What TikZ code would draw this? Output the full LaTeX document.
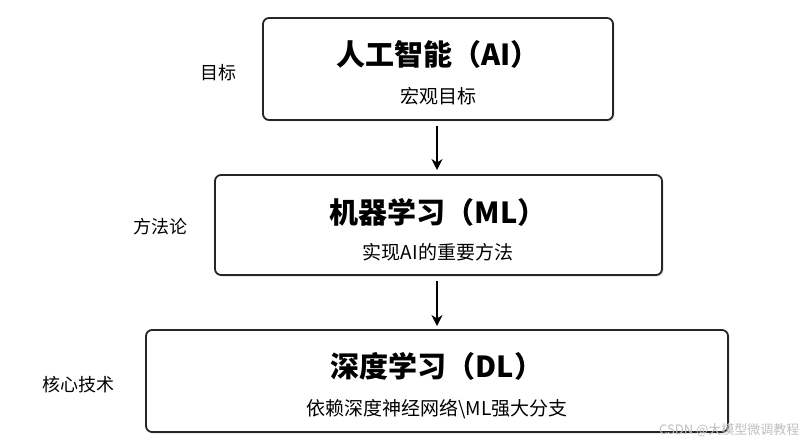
\documentclass[tikz,border=0pt]{standalone}
\usepackage{fontspec}
\setmainfont{Noto Sans CJK SC}
\usetikzlibrary{arrows.meta}
\usetikzlibrary{shadows}

\tikzset{
    layerbox/.style={draw=black!85, line width=1.8pt, rounded corners=6pt,
        fill=white, drop shadow={opacity=0.25, shadow xshift=1.5pt, shadow yshift=-1.5pt}},
    titletext/.style={font=\fontsize{29}{32}\selectfont\bfseries},
    subtext/.style={font=\fontsize{19}{22}\selectfont},
    sidetext/.style={font=\fontsize{18}{21}\selectfont},
    flow/.style={-{Stealth[length=11pt,width=11pt]}, line width=2pt}
}

\begin{document}
\begin{tikzpicture}[x=1pt,y=-1pt]
    \useasboundingbox (0,0) rectangle (808,446);
    % boxes
    \draw[layerbox] (263,18) rectangle (613,120);
    \draw[layerbox] (215,175) rectangle (662,275);
    \draw[layerbox] (146,330) rectangle (728,432);
    % texts
    \node[titletext] (ai) at (438,54) {人工智能（AI）};
    \node[subtext] (aisub) at (438,96) {宏观目标};
    \node[titletext] (ml) at (438,212) {机器学习（ML）};
    \node[subtext] (mlsub) at (438,252) {实现AI的重要方法};
    \node[titletext] (dl) at (437,366) {深度学习（DL）};
    \node[subtext] (dlsub) at (437,409) {依赖深度神经网络\textbackslash ML强大分支};
    % side labels
    \node[sidetext] (goal) at (218,73) {目标};
    \node[sidetext] (method) at (160,227) {方法论};
    \node[sidetext] (core) at (78,385) {核心技术};
    % arrows
    \coordinate (a1) at (437,126);
    \coordinate (a2) at (437,170);
    \coordinate (b1) at (437,281);
    \coordinate (b2) at (437,326);
    \draw[flow] (a1) -- (a2);
    \draw[flow] (b1) -- (b2);
    % watermark
    \node[font=\fontsize{13}{15}\selectfont, text=black!25, anchor=east] (mark) at (803,430) {CSDN @大模型微调教程};
\end{tikzpicture}
\end{document}
